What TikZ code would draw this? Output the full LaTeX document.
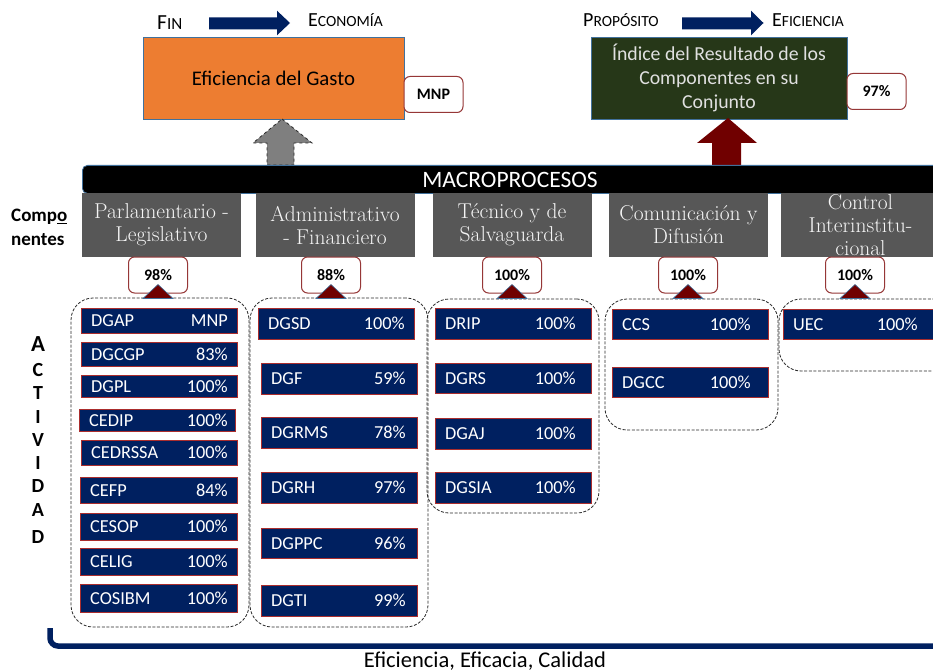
\documentclass[tikz,border=0pt]{standalone}
\usepackage{fontspec}
\newfontfamily\calibri{Carlito}
\usetikzlibrary{calc}

\definecolor{navy}{RGB}{0,32,96}
\definecolor{boxred}{RGB}{170,45,45}
\definecolor{tagred}{RGB}{150,55,55}
\definecolor{orangefill}{RGB}{237,125,49}
\definecolor{greenfill}{RGB}{38,55,24}
\definecolor{steel}{RGB}{65,113,156}
\definecolor{compgrey}{RGB}{87,87,87}
\definecolor{maroon}{RGB}{112,0,0}
\definecolor{arrowgrey}{RGB}{127,127,127}
\definecolor{dashgrey}{RGB}{40,40,40}

\newcommand\sz[2]{\fontsize{#1}{#2}\selectfont}

\tikzset{
  topbox/.style={draw=steel, line width=0.8pt, inner sep=0pt},
  tag/.style={draw=tagred, line width=1pt, rounded corners=6pt, fill=white,
    minimum width=59pt, minimum height=36pt, inner sep=0pt,
    font=\calibri\bfseries\sz{16}{16}},
  comp/.style={fill=compgrey, minimum width=159pt, minimum height=64pt,
    inner sep=0pt, align=center, text=white!96!black, font=\rmfamily\sz{21.5}{23}},
  group/.style={draw=dashgrey, dash pattern=on 3pt off 1.6pt, line width=0.8pt,
    rounded corners=22pt},
  act/.style={fill=navy, draw=boxred, line width=1pt},
  acttxt/.style={text=white, inner sep=0pt, font=\calibri\sz{18.3}{18.3}},
  pctup/.style={fill=maroon, draw=steel, line width=0.6pt},
  headline/.style={inner sep=0pt, font=\calibri},
  letter/.style={inner sep=0pt, font=\calibri\bfseries\sz{20}{20}},
}

% a named box given by its corners: name, x1, y1, x2, y2, style
\newcommand\pxbox[6]{%
  \node[#6, inner sep=0pt, minimum width={(#4)-(#2)}, minimum height={(#5)-(#3)}]
    (#1) at ({((#2)+(#4))/2},{((#3)+(#5))/2}) {};}

% an activity bar: name, x1, y1, x2, y2, label, value, right edge of value
\newcommand\actbox[8]{%
  \pxbox{#1}{#2}{#3}{#4}{#5}{act}
  \node[acttxt, anchor=base west] (#1-name) at ({(#2)+10},{((#3)+(#5))/2+6}) {#6};
  \node[acttxt, anchor=base east] (#1-val) at ({#8},{((#3)+(#5))/2+6}) {#7};}

\begin{document}
\begin{tikzpicture}[x=1pt, y=-1pt]
\useasboundingbox (0,0) rectangle (933,671);
\fill[white] (0,0) rectangle (933,671);
\clip (0,0) rectangle (933,671);

% ---- top level: Fin / Propósito
\node[headline, anchor=base west] (fin) at (157,29.5) {\sz{21.5}{22}F\sz{17}{17}IN};
\node[headline, anchor=base west] (econ) at (308,27) {\sz{20}{20}E\sz{15.5}{15.5}CONOMÍA};
\node[headline, anchor=base west] (prop) at (583,27) {\sz{20}{20}P\sz{15.5}{15.5}ROPÓSITO};
\node[headline, anchor=base west] (efic) at (772,27) {\sz{20}{20}E\sz{15.5}{15.5}FICIENCIA};

\fill[navy] (209,17.3) -- (277,17.3) -- (277,10.7) -- (290,23) -- (277,35.3)
  -- (277,29.3) -- (209,29.3) -- cycle;
\fill[navy] (682,17.3) -- (751,17.3) -- (751,10.7) -- (763.5,23) -- (751,35.3)
  -- (751,29.3) -- (682,29.3) -- cycle;

\node[topbox, fill=orangefill, minimum width=261pt, minimum height=82pt,
  font=\calibri\sz{20.8}{24}] (gasto) at (273.5,78) {Eficiencia del Gasto};
\node[topbox, fill=greenfill, minimum width=256pt, minimum height=82pt] (indice)
  at (719,78) {};
\node[align=center, inner sep=0pt, text=white!88!black, font=\calibri\sz{19.8}{24},
  anchor=base] (indice-text) at (719,109)
  {Índice del Resultado de los\\Componentes en su\\Conjunto};

\node[tag] (mnp) at (433.5,94.5) {MNP};
\node[tag] (res97) at (876.5,91.5) {97\%};

% ---- block arrows from the macroprocess bar
\path[fill=arrowgrey, draw=dashgrey, dashed, line width=0.8pt]
  (282,119) -- (312,143) -- (294,143) -- (294,165) -- (267,165) -- (267,143)
  -- (253,143) -- cycle;
\fill[maroon] (728,118) -- (757,143) -- (741,143) -- (741,165) -- (712,165)
  -- (712,143) -- (697,143) -- cycle;

% ---- macroprocess bar
\node[fill=black, draw=steel, line width=0.8pt, rounded corners=5pt, inner sep=0pt,
  minimum width=863pt, minimum height=28pt, anchor=north west] (macro) at (82,165) {};
\node[text=white, inner sep=0pt, font=\calibri\sz{23.5}{23.5}] (macro-label) at (510,180)
  {MACROPROCESOS};

% ---- components
\node[comp] (c1) at (161.5,225) {Parlamentario -\\Legislativo};
\node[comp] (c2) at (335,225) {Administrativo\\- Financiero};
\node[comp] (c3) at (512,225) {Técnico y de\\Salvaguarda};
\node[comp] (c4) at (688.5,225) {Comunicación y\\Difusión};
\node[comp] (c5) at (860.5,225) {Control\\Interinstitu-\\cional};

\node[anchor=west, align=left, inner sep=0pt, font=\calibri\bfseries\sz{19}{24}]
  (compo) at (11,227) {Comp\underline{o}\\nentes};

% ---- activity label
\node[letter, font=\calibri\bfseries\sz{23}{23}] (l1) at (38,344) {A};
\foreach \ch/\y [count=\i from 2] in {C/370,T/393,I/417,V/440,I/463,D/486,A/510,D/537}
  \node[letter] (l\i) at (38,\y) {\ch};

% ---- activity groups
\pxbox{g1}{71}{298}{249}{627}{group}
\pxbox{g2}{250}{298}{428}{627}{group}
\pxbox{g3}{427}{299}{599}{513}{group}
\pxbox{g4}{605}{299}{778}{430}{group}
\pxbox{g5}{779}{299}{985}{371}{group}

% ---- component results with pointers from their groups
\foreach \n/\cx/\v in {p1/158/98,p2/331/88,p3/512/100,p4/688/100,p5/855/100} {
  \node[tag] (\n) at (\cx,275) {\v\%};
  \path[pctup] ($(\n.south)+(0,-9)$) -- ($(\n.south)+(15,5)$)
    -- ($(\n.south)+(-15,5)$) -- cycle;
}

% ---- activities
\actbox{a1}{81}{308}{237}{333}{DGAP}{MNP}{228}
\actbox{a2}{81}{342}{237}{366}{DGCGP}{83\%}{228}
\actbox{a3}{81}{375}{237}{397}{DGPL}{100\%}{228}
\actbox{a4}{79}{409}{235}{431}{CEDIP}{100\%}{228}
\actbox{a5}{81}{440}{237}{465}{CEDRSSA}{100\%}{228}
\actbox{a6}{80}{477}{237}{503}{CEFP}{84\%}{228}
\actbox{a7}{80}{513}{237}{540}{CESOP}{100\%}{228}
\actbox{a8}{80}{548}{237}{575}{CELIG}{100\%}{228}
\actbox{a9}{80}{584}{237}{612}{COSIBM}{100\%}{228}

\actbox{b1}{258}{308}{414}{339}{DGSD}{100\%}{405}
\actbox{b2}{261}{363}{417}{394}{DGF}{59\%}{406}
\actbox{b3}{261}{417}{417}{448}{DGRMS}{78\%}{406}
\actbox{b4}{261}{472}{417}{503}{DGRH}{97\%}{406}
\actbox{b5}{261}{528}{417}{558}{DGPPC}{96\%}{406}
\actbox{b6}{261}{585}{417}{616}{DGTI}{99\%}{406}

\actbox{d1}{435}{308}{591}{339}{DRIP}{100\%}{576}
\actbox{d2}{435}{363}{591}{393}{DGRS}{100\%}{576}
\actbox{d3}{435}{418}{591}{449}{DGAJ}{100\%}{576}
\actbox{d4}{435}{472}{591}{503}{DGSIA}{100\%}{576}

\actbox{e1}{612}{309}{768}{339}{CCS}{100\%}{751}
\actbox{e2}{612}{367}{768}{397}{DGCC}{100\%}{751}

\actbox{f1}{783}{309}{939}{339}{UEC}{100\%}{918}

% ---- bottom bracket and criteria
\coordinate (brk-top) at (50,628);
\coordinate (brk-corner) at (50,646);
\coordinate (brk-end) at (960,646);
\draw[navy, line width=5.5pt, rounded corners=8pt] (brk-top) -- (brk-corner) -- (brk-end);
\node[inner sep=0pt, anchor=base, font=\calibri\sz{22.5}{22.5}] (criteria) at (485,667)
  {Eficiencia, Eficacia, Calidad};
\end{tikzpicture}
\end{document}
